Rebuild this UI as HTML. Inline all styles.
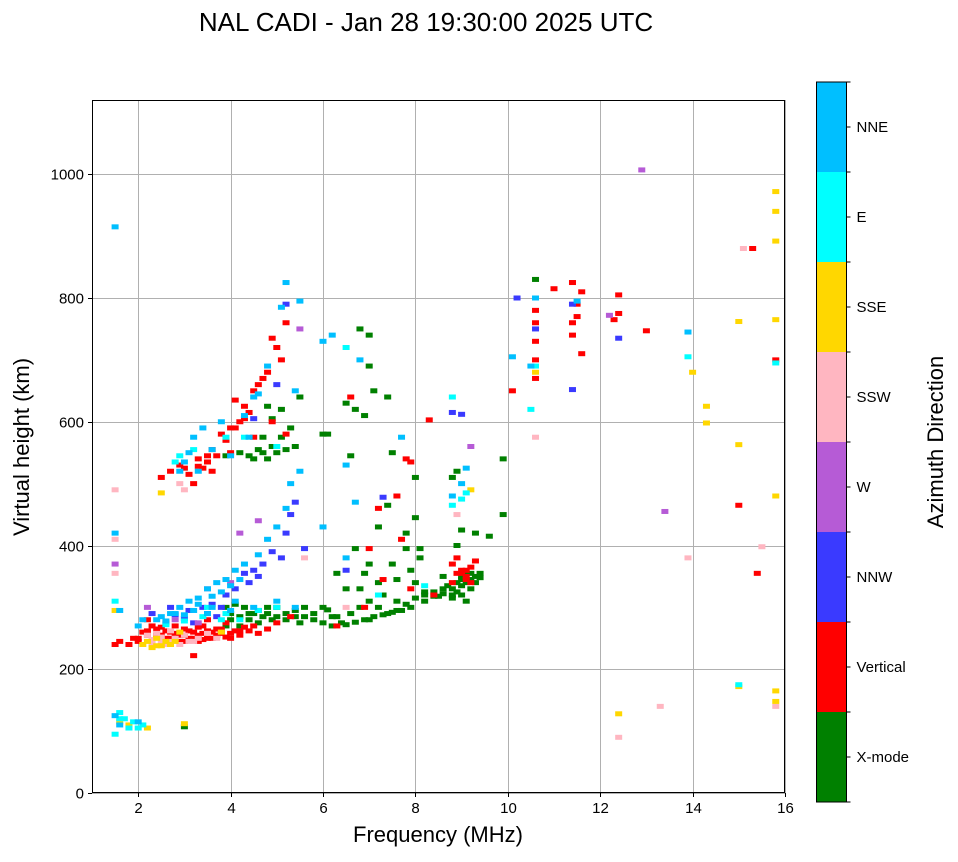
<!DOCTYPE html>
<html><head><meta charset="utf-8"><style>
body{margin:0;background:#fff;}
svg text{font-family:"Liberation Sans",sans-serif;}
</style></head><body>
<svg id="chart" width="958" height="857" xmlns="http://www.w3.org/2000/svg">
<rect width="958" height="857" fill="#fff"/>
<text x="426" y="31" font-size="26" text-anchor="middle">NAL CADI - Jan 28 19:30:00 2025 UTC</text>
<g id="grid"></g>
<g id="marks"></g>
<rect x="92.5" y="100.5" width="692" height="692" fill="none" stroke="#000" stroke-width="1"/>
<g id="axes"></g>
<text x="438" y="842" font-size="22" text-anchor="middle">Frequency (MHz)</text>
<text transform="translate(29,447) rotate(-90)" font-size="22" text-anchor="middle">Virtual height (km)</text>
<g id="cbar"></g>
<text transform="translate(943,442) rotate(-90)" font-size="22" text-anchor="middle">Azimuth Direction</text>
</svg>
<script>
const xTicks=[2,4,6,8,10,12,14,16];
const yTicks=[0,200,400,600,800,1000];
const directions=["X-mode","Vertical","NNW","W","SSW","SSE","E","NNE"];
const dirColors=["#008000","#ff0000","#3a3aff","#b65bd6","#ffb6c1","#ffd700","#00ffff","#00bfff"];
const xmodePts=[[3.9,300],[4.1,305],[4.3,300],[4.5,290],[4.7,285],[4.9,280],[5.0,300],[5.2,290],[5.4,295],[5.6,285],[5.8,290],[6.0,275],[6.2,270],[6.4,275],[6.6,290],[6.8,300],[7.0,280],[7.2,300],[7.4,290],[7.6,295],[7.8,305],[8.0,315],[8.2,320],[8.4,325],[8.6,330],[8.8,320],[8.9,325],[9.0,335],[9.1,340],[9.2,330],[9.3,350],[9.4,355],[9.1,310],[8.5,318],[7.0,310],[7.3,320],[7.6,345],[7.9,360],[8.1,380],[6.5,330],[6.9,355],[7.5,370],[7.8,395],[7.8,420],[8.0,445],[8.0,510],[8.8,510],[8.9,520],[8.9,400],[9.0,425],[9.3,420],[9.6,415],[9.9,450],[9.9,540],[7.2,430],[6.0,580],[6.5,630],[6.7,620],[6.8,750],[7.0,740],[6.6,545],[7.1,650],[7.0,690],[6.9,610],[7.5,550],[7.4,465],[6.7,395],[6.3,355],[10.6,830],[4.5,540],[4.7,550],[4.9,560],[5.1,575],[5.3,590],[5.5,640],[4.6,555],[4.8,625],[5.2,555],[4.2,550],[3.9,545],[4.9,605],[8.2,325],[6.1,296],[9.0,345],[9.2,355],[8.7,335],[4.0,290],[4.4,280],[6.3,285],[5.5,275],[3.0,107],[6.1,580],[7.4,640],
[8.8,330],[8.9,340],[9.0,350],[9.1,355],[9.2,345],[9.3,340],[9.4,348],[9.0,320],[8.8,315],[8.6,322],[8.4,318],[8.2,310],[7.9,300],[7.7,295],[7.5,292],[7.3,288],[7.1,285],[6.9,280],[6.7,276],[6.5,272],[4.0,280],[4.2,285],[4.4,290],[4.6,295],[4.8,290],[5.0,285],[5.2,280],[5.4,285],[5.8,280],[6.2,285],[4.2,270],[3.9,270],[4.6,275],[4.8,300],[5.6,300],[6.0,300],[7.6,310],[7.2,340],[7.0,370],[6.8,330],[8.0,340],[8.1,395],[8.6,350],[4.4,545],[4.8,540],[5.0,550],[5.4,560],[4.7,575],[5.1,620]];
const verticalPts=[[1.5,240],[1.6,245],[1.8,240],[1.9,250],[2.0,245],[2.1,260],[2.2,255],[2.3,270],[2.4,265],[2.5,255],[2.6,250],[2.7,260],[2.8,270],[2.9,255],[3.0,265],[3.1,250],[3.2,260],[3.3,255],[3.4,270],[3.5,250],[3.6,260],[3.7,255],[3.8,265],[3.9,252],[4.0,258],[4.1,262],[4.2,255],[4.3,268],[4.5,270],[4.8,265],[5.0,275],[5.3,285],[3.0,245],[3.3,245],[2.6,275],[2.2,280],[3.5,280],[3.9,275],[3.2,222],[2.5,510],[2.7,520],[2.9,530],[3.1,515],[3.2,500],[3.3,540],[3.4,525],[3.5,535],[3.6,555],[3.7,545],[3.8,580],[3.9,570],[4.0,590],[4.1,635],[4.2,600],[4.3,625],[4.4,615],[4.5,650],[4.6,660],[4.7,670],[4.8,680],[5.0,720],[5.1,700],[5.2,760],[4.9,735],[3.6,520],[4.0,550],[4.5,575],[4.9,600],[5.2,580],[6.6,640],[8.3,603],[7.8,540],[7.9,535],[7.2,460],[7.6,480],[7.0,395],[7.3,345],[7.7,410],[8.9,380],[8.8,370],[8.9,355],[9.0,360],[9.1,345],[9.2,365],[9.3,375],[8.8,340],[7.9,330],[8.4,320],[6.9,300],[6.3,270],[10.1,650],[10.6,780],[10.6,760],[10.6,730],[10.6,700],[10.6,670],[11.0,815],[11.4,825],[11.5,790],[11.4,760],[11.4,740],[11.5,770],[11.6,810],[11.6,710],[12.4,805],[12.4,775],[12.3,765],[13.0,747],[15.3,880],[15.8,700],[15.0,465],[15.4,355],
[2.0,250],[2.2,262],[2.4,255],[2.6,262],[2.8,258],[3.0,255],[3.2,250],[3.4,258],[3.6,250],[3.8,258],[4.0,250],[4.2,262],[3.1,262],[3.3,268],[3.5,262],[3.7,265],[2.9,245],[2.7,250],[2.5,268],[3.4,248],[4.4,262],[4.6,258],[9.0,355],[9.1,350],[9.2,340],[9.1,360],[3.3,528],[3.5,545],[3.0,525],[4.1,590],[4.3,605]];
const nnwPts=[[2.3,290],[2.7,300],[3.1,295],[3.4,300],[3.6,305],[3.9,320],[4.1,330],[4.3,355],[4.5,360],[4.7,370],[4.9,390],[5.2,420],[5.3,450],[5.4,470],[5.6,395],[5.2,790],[5.0,660],[4.5,605],[6.5,360],[7.3,478],[8.8,615],[9.0,612],[10.2,800],[10.6,750],[11.4,790],[11.4,652],[12.4,735],[5.1,380],[4.6,350],[3.2,275],[3.7,285],[2.8,288],[3.0,282],[3.5,290],[3.8,300],[4.4,340]];
const wPts=[[1.5,370],[2.2,300],[4.2,420],[3.5,330],[4.6,440],[4.0,340],[5.5,750],[9.2,560],[12.9,1007],[13.4,455],[12.2,772],[3.3,275],[2.8,280]];
const sswPts=[[1.5,490],[1.5,410],[1.5,355],[2.2,255],[2.3,248],[2.5,245],[2.6,240],[2.8,250],[3.0,255],[3.2,245],[2.4,258],[2.7,262],[6.5,300],[8.9,450],[13.9,380],[12.4,90],[13.3,140],[15.8,140],[15.5,398],[15.1,880],[10.6,575],[3.0,490],[2.9,500],[5.6,380],[2.3,240],[2.5,252],[2.7,245],[2.9,240],[3.1,245],[3.3,250],[3.5,258],[3.7,250]];
const ssePts=[[1.5,295],[2.1,240],[2.3,235],[2.5,238],[2.6,245],[2.7,240],[2.4,250],[2.5,485],[3.0,112],[2.9,260],[3.8,260],[9.2,490],[10.6,680],[12.4,128],[14.0,680],[14.3,625],[14.3,598],[15.0,762],[15.0,563],[15.0,172],[15.8,972],[15.8,940],[15.8,892],[15.8,765],[15.8,480],[15.8,165],[15.8,148],[1.6,115],[1.8,110],[2.2,105],[2.2,245],[2.4,238],[2.8,245]];
const ePts=[[1.5,310],[1.5,95],[1.6,130],[1.7,120],[1.9,115],[2.1,110],[2.0,105],[2.8,535],[2.9,545],[3.2,555],[3.9,575],[4.3,575],[5.0,560],[3.5,300],[3.9,290],[4.2,280],[4.6,295],[5.0,300],[6.5,720],[8.8,640],[9.0,475],[10.6,690],[10.5,620],[13.9,705],[15.8,695],[15.0,175],[7.2,320],[8.2,335],[8.8,465],[9.1,485],[2.6,272],[3.0,278],[3.4,285],[3.8,280],[1.6,120],[1.8,105]];
const nnePts=[[1.5,915],[1.5,420],[1.5,125],[1.6,110],[2.0,115],[2.7,290],[2.9,300],[3.1,310],[3.3,315],[3.5,330],[3.7,340],[3.9,345],[4.1,360],[4.3,370],[4.6,385],[4.8,410],[5.0,430],[5.2,460],[5.3,500],[5.5,520],[6.0,430],[6.5,380],[6.7,470],[6.5,530],[6.0,730],[6.2,740],[6.8,700],[7.7,575],[8.8,480],[9.0,500],[9.1,525],[10.1,705],[10.6,800],[10.5,690],[11.5,795],[13.9,745],[1.6,295],[2.1,280],[2.5,285],[3.2,295],[3.6,300],[4.1,310],[2.9,520],[3.0,535],[3.2,575],[3.4,590],[3.6,555],[3.8,600],[4.0,545],[4.3,610],[4.5,640],[4.6,645],[4.8,690],[5.1,785],[5.2,825],[5.5,795],[5.4,650],[2.0,270],[2.4,280],[2.8,290],[3.5,290],[4.0,295],[4.5,300],[5.0,310],[5.4,300],[2.6,278],[3.0,288],[3.3,305],[3.6,318],[3.8,325],[4.0,335],[4.2,345],[3.1,550],[3.3,520],[4.4,575]];
const seriesPts=[xmodePts,verticalPts,nnwPts,wPts,sswPts,ssePts,ePts,nnePts];

const NS="http://www.w3.org/2000/svg";
const X0=92,X1=785,Y0=793,Y1=100,FMIN=1,FMAX=16,HMIN=0,HMAX=1120;
function xs(f){return X0+(f-FMIN)/(FMAX-FMIN)*(X1-X0);}
function ys(h){return Y0-(h-HMIN)/(HMAX-HMIN)*(Y0-Y1);}
function mk(tag,attrs,parent){const e=document.createElementNS(NS,tag);for(const k in attrs)e.setAttribute(k,attrs[k]);parent.appendChild(e);return e;}
const grid=document.getElementById('grid'),axes=document.getElementById('axes'),marks=document.getElementById('marks'),cbar=document.getElementById('cbar');
xTicks.forEach(t=>{const x=Math.round(xs(t))+0.5;
 const g=mk('line',{x1:x,x2:x,y1:Y1,y2:Y0,stroke:'#b0b0b0','stroke-width':1},grid);
 
 
 mk('line',{x1:x,x2:x,y1:Y0,y2:Y0+4,stroke:'#000'},axes);
 const tx=mk('text',{x:x,y:Y0+20,'font-size':15,'text-anchor':'middle'},axes);tx.textContent=t;
 
 });
yTicks.forEach(t=>{const y=Math.round(ys(t))+0.5;
 const g=mk('line',{x1:X0,x2:X1,y1:y,y2:y,stroke:'#b0b0b0','stroke-width':1},grid);
 
 
 mk('line',{x1:X0-4,x2:X0,y1:y,y2:y,stroke:'#000'},axes);
 const tx=mk('text',{x:X0-8,y:y+5,'font-size':15,'text-anchor':'end'},axes);tx.textContent=t;
 
 });
seriesPts.forEach((pts,i)=>{pts.forEach(p=>{
 const r=mk('rect',{x:xs(p[0])-3.5,y:ys(p[1])-2.5,width:7,height:5,fill:dirColors[i]},marks);
 
 });});
const CX=816.5,CW=30,CT=82,CB=802,seg=(CB-CT)/directions.length;
directions.forEach((d,i)=>{const y=CB-(i+1)*seg;
 const r=mk('rect',{x:CX,y:y,width:CW,height:seg,fill:dirColors[i]},cbar);
 
 
 mk('line',{x1:CX+CW,x2:CX+CW+4,y1:y+seg/2,y2:y+seg/2,stroke:'#000'},cbar);
 mk('line',{x1:CX+CW,x2:CX+CW+4,y1:y,y2:y,stroke:'#000'},cbar);
 const tx=mk('text',{x:CX+CW+10,y:y+seg/2+5,'font-size':15},cbar);tx.textContent=d;
 
 });
mk('line',{x1:CX+CW,x2:CX+CW+4,y1:CB,y2:CB,stroke:'#000'},cbar);
const fr=mk('rect',{x:CX,y:CT,width:CW,height:CB-CT,fill:'none',stroke:'#000'},cbar);


</script>
</body></html>
